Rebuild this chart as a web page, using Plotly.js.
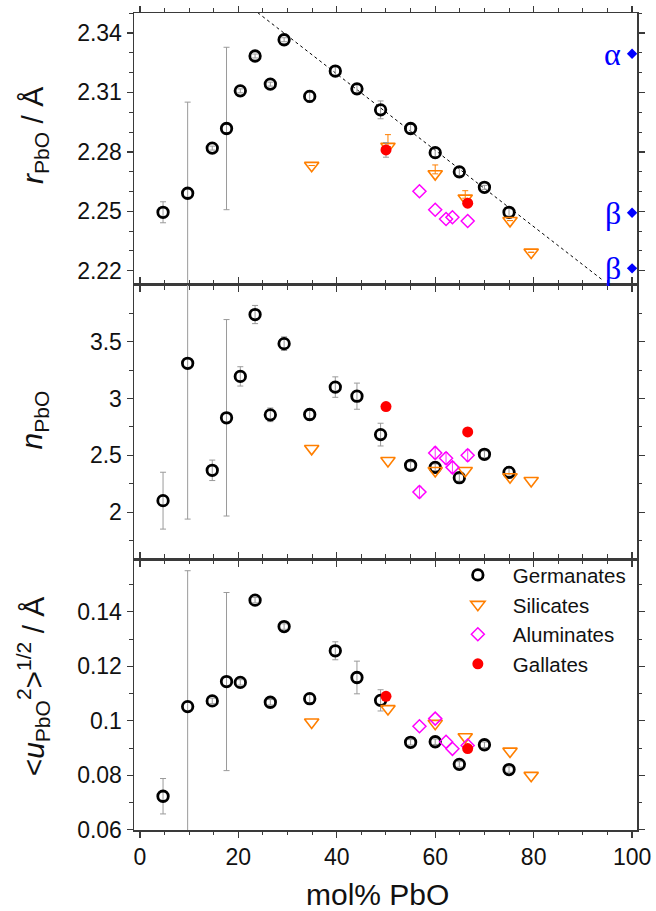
<!DOCTYPE html>
<html>
<head>
<meta charset="utf-8">
<script src="https://cdn.plot.ly/plotly-3.0.1.min.js"></script>
<style>html,body{margin:0;padding:0;background:#fff;}#chart{width:656px;height:911px;}</style>
</head>
<body>
<div id="chart"></div>
<script>
// ---- data ----
const germX = [4.7, 9.7, 14.7, 17.6, 20.4, 23.4, 26.5, 29.3, 34.5, 39.7, 44.1, 48.9, 55.0, 60.0, 64.9, 70.0, 75.0];
const germR = [2.2495, 2.2591, 2.2819, 2.2918, 2.3108, 2.3284, 2.3142, 2.3366, 2.3080, 2.3208, 2.3118, 2.3012, 2.2918, 2.2796, 2.2699, 2.2621, 2.2495];
const germRerr = [0.0053, 0.046, 0.001, 0.041, 0.001, 0.001, 0.001, 0.001, 0.003, 0.0027, 0.002, 0.0045, 0.002, 0.002, 0.002, 0.001, 0.002];
const germN = [2.101, 3.309, 2.368, 2.830, 3.194, 3.738, 2.856, 3.482, 2.859, 3.100, 3.020, 2.682, 2.412, 2.394, 2.303, 2.509, 2.350];
const germNerr = [0.25, 1.37, 0.09, 0.864, 0.085, 0.08, 0.06, 0.06, 0.05, 0.09, 0.115, 0.1, 0.03, 0.03, 0.03, 0.03, 0.05];
const germU = [0.0723, 0.1052, 0.1073, 0.1144, 0.1141, 0.1443, 0.1068, 0.1346, 0.1081, 0.1257, 0.1159, 0.1075, 0.0921, 0.0923, 0.0840, 0.0912, 0.0821];
const germUerr = [0.0065, 0.0499, 0.001, 0.0327, 0.001, 0.001, 0.001, 0.001, 0.0015, 0.0033, 0.006, 0.0039, 0.001, 0.001, 0.001, 0.001, 0.001];

const silX = [34.9, 50.4, 60.0, 66.1, 75.2, 79.5];
const silR = [2.2731, 2.2827, 2.2689, 2.2566, 2.2453, 2.2293];
const silRerrUp = [0, 0.006, 0.0045, 0.0038, 0, 0];
const silRerrDown = [0, 0, 0, 0, 0, 0];
const silN = [2.559, 2.453, 2.365, 2.365, 2.310, 2.277];
const silU = [0.0995, 0.1044, 0.0990, 0.0941, 0.0888, 0.0799];

const alX = [56.8, 60.0, 62.2, 63.5, 66.6];
const alR = [2.2601, 2.2508, 2.2461, 2.2470, 2.2451];
const alN = [2.177, 2.521, 2.474, 2.394, 2.500];
const alNerr = [0.05, 0.05, 0.05, 0.05, 0.05];
const alU = [0.0980, 0.1008, 0.0923, 0.0897, 0.0909];

const galX = [50.0, 66.6];
const galR = [2.2810, 2.2541];
const galRerr = [0.0037, 0];
const galN = [2.929, 2.706];
const galU = [0.1090, 0.0898];

const refX = [100, 100, 100];
const refR = [2.3295, 2.2493, 2.2212];
const refLabels = ['α', 'β', 'β'];

const fitX = [22, 94];
const fitY = [2.3540, 2.2153];

const seriesNames = ['Germanates', 'Silicates', 'Aluminates', 'Gallates'];
const xTitle = 'mol% PbO';
const yTitles = ['<i>r</i><sub>PbO</sub> / Å', '<i>n</i><sub>PbO</sub>', '&lt;<i>u</i><sub>PbO</sub><sup>2</sup>&gt;<sup>1/2</sup> / Å'];

// ---- styles ----
const FONT = 'Liberation Sans, Arial, sans-serif';
const ORANGE = '#FF7F00', MAGENTA = '#FF00FF', RED = '#FF0000', BLUE = '#0000FF';
const germMarker = {symbol: 'circle-open', size: 10.5, color: '#000', line: {width: 2.8, color: '#000'}};
const silMarker = {symbol: 'triangle-down-open', size: 12.5, color: ORANGE, line: {width: 1.6, color: ORANGE}};
const alMarker = {symbol: 'diamond-open', size: 10, color: MAGENTA, line: {width: 1.5, color: MAGENTA}};
const galMarker = {symbol: 'circle', size: 11, color: RED, line: {width: 0}};
const grayErr = (arr) => ({type: 'data', array: arr, visible: true, color: '#9a9a9a', thickness: 1, width: 3});

const axes = [['x', 'y'], ['x2', 'y2'], ['x3', 'y3']];
const germY = [germR, germN, germU];
const germE = [germRerr, germNerr, germUerr];
const silY = [silR, silN, silU];
const alY = [alR, alN, alU];
const galY = [galR, galN, galU];

const data = [];
// fit line (top panel)
data.push({x: fitX, y: fitY, xaxis: 'x', yaxis: 'y', mode: 'lines', showlegend: false,
  line: {color: '#000', width: 1, dash: '3px,3px'}, hoverinfo: 'skip'});

for (let p = 0; p < 3; p++) {
  const [xa, ya] = axes[p];
  const leg = (p === 2);
  data.push({x: germX, y: germY[p], xaxis: xa, yaxis: ya, mode: 'markers', name: seriesNames[0],
    showlegend: leg, legendrank: 1, marker: germMarker, error_y: grayErr(germE[p])});
  const silTrace = {x: silX, y: silY[p], xaxis: xa, yaxis: ya, mode: 'markers', name: seriesNames[1],
    showlegend: leg, legendrank: 2, marker: silMarker};
  if (p === 0) silTrace.error_y = {type: 'data', symmetric: false, array: silRerrUp, arrayminus: silRerrDown,
    visible: true, color: ORANGE, thickness: 1, width: 3};
  data.push(silTrace);
  const alTrace = {x: alX, y: alY[p], xaxis: xa, yaxis: ya, mode: 'markers', name: seriesNames[2],
    showlegend: leg, legendrank: 3, marker: alMarker};
  if (p === 1) alTrace.error_y = {type: 'data', array: alNerr, visible: true, color: MAGENTA, thickness: 0.8, width: 2};
  data.push(alTrace);
  const galTrace = {x: galX, y: galY[p], xaxis: xa, yaxis: ya, mode: 'markers', name: seriesNames[3],
    showlegend: leg, legendrank: 4, marker: galMarker};
  if (p === 0) galTrace.error_y = grayErr(galRerr);
  data.push(galTrace);
}
// crystalline PbO references
data.push({x: refX, y: refR, xaxis: 'x', yaxis: 'y', mode: 'markers', showlegend: false,
  marker: {symbol: 'diamond', size: 8, color: BLUE}, cliponaxis: false});

// ---- layout ----
const lineCommon = {showline: true, linecolor: '#3a3a3a', linewidth: 1.5, mirror: 'ticks', ticks: 'outside',
  ticklen: 6, tickwidth: 1.3, tickcolor: '#3a3a3a', zeroline: false, showgrid: false,
  tickfont: {family: FONT, size: 23, color: '#111'}};
const minorX = {dtick: 5, ticks: 'outside', ticklen: 3.5, tickwidth: 1, tickcolor: '#3a3a3a', showgrid: false};

const dTop = [0.6671, 1], dMid = [0.3317, 0.6671], dBot = [0, 0.3317];

const layout = {
  width: 656, height: 911,
  margin: {l: 134, r: 19, t: 13, b: 81},
  paper_bgcolor: '#fff', plot_bgcolor: '#fff',
  showlegend: true,
  legend: {x: 0.614, y: 0.3365, xanchor: 'left', yanchor: 'top', bgcolor: 'rgba(0,0,0,0)',
    font: {family: FONT, size: 20.5, color: '#111'}, itemwidth: 60, tracegroupgap: 0, traceorder: 'normal'},
  xaxis: Object.assign({}, lineCommon, {anchor: 'y', range: [-1.2, 101], dtick: 20, tick0: 0, minor: minorX, showticklabels: false}),
  xaxis2: Object.assign({}, lineCommon, {anchor: 'y2', matches: 'x', range: [-1.2, 101], dtick: 20, tick0: 0, minor: minorX, showticklabels: false}),
  xaxis3: Object.assign({}, lineCommon, {anchor: 'y3', matches: 'x', range: [-1.2, 101], dtick: 20, tick0: 0, minor: minorX, showticklabels: true}),
  yaxis: Object.assign({}, lineCommon, {anchor: 'x', domain: dTop, range: [2.2128, 2.3501], dtick: 0.03, tick0: 2.22, tickformat: '.2f',
    minor: {dtick: 0.01, ticks: 'outside', ticklen: 3.5, tickwidth: 1, tickcolor: '#3a3a3a'}}),
  yaxis2: Object.assign({}, lineCommon, {anchor: 'x2', domain: dMid, range: [1.588, 3.998], dtick: 0.5, tick0: 0,
    minor: {dtick: 0.25, ticks: 'outside', ticklen: 3.5, tickwidth: 1, tickcolor: '#3a3a3a'}}),
  yaxis3: Object.assign({}, lineCommon, {anchor: 'x3', domain: dBot, range: [0.0599, 0.1594], dtick: 0.02, tick0: 0,
    minor: {dtick: 0.01, ticks: 'outside', ticklen: 3.5, tickwidth: 1, tickcolor: '#3a3a3a'}}),
  annotations: []
};

// y titles
const titleY = [0.8507, 0.5018, 0.1763];
const titleX = [-0.197, -0.200, -0.200];
for (let i = 0; i < 3; i++) {
  layout.annotations.push({text: yTitles[i], xref: 'paper', yref: 'paper', x: titleX[i], y: titleY[i],
    xanchor: 'center', yanchor: 'middle', textangle: -90, showarrow: false,
    font: {family: FONT, size: 30, color: '#111'}});
}
// x title
layout.annotations.push({text: xTitle, xref: 'paper', yref: 'paper', x: 0.485, y: -0.079,
  xanchor: 'center', yanchor: 'middle', showarrow: false, font: {family: FONT, size: 30, color: '#111'}});
// α / β labels
for (let i = 0; i < refX.length; i++) {
  layout.annotations.push({text: refLabels[i], xref: 'x', yref: 'y', x: refX[i], y: refR[i],
    xanchor: 'right', yanchor: 'middle', xshift: -9, showarrow: false,
    font: {family: 'Liberation Serif, Times New Roman, serif', size: 32, color: BLUE}});
}

Plotly.newPlot('chart', data, layout, {displayModeBar: false, staticPlot: true});
</script>
</body>
</html>
